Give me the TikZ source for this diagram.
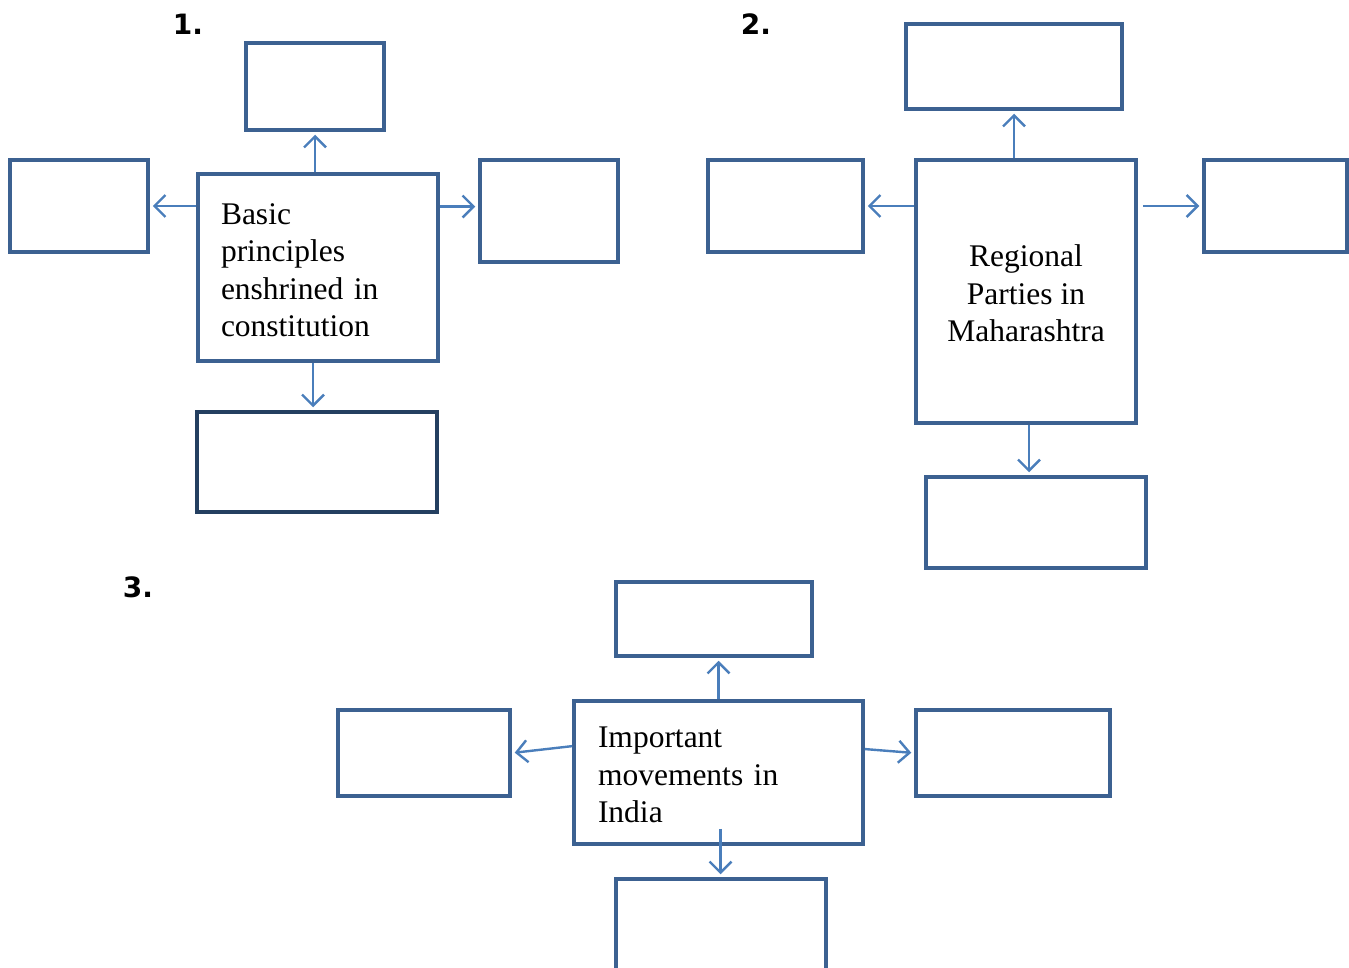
\documentclass[tikz,border=0pt]{standalone}
\usepackage{fontspec}
\setmainfont{Liberation Serif}
\newfontfamily\labfont{DejaVu Sans}
\usetikzlibrary{arrows.meta,calc}
\definecolor{boxblue}{RGB}{60,97,145}
\definecolor{boxdark}{RGB}{36,63,96}
\definecolor{arrblue}{RGB}{74,126,187}
\tikzset{
  emptybox/.style={draw=boxblue, line width=3.5pt, fill=white, inner sep=0pt},
  mainbox/.style={draw=boxblue, line width=3.5pt, fill=white, font=\fontsize{31.5}{37.5}\selectfont},
  conn/.style={draw=arrblue, line width=2.4pt, -{Straight Barb[length=11pt,width=22pt,line width=2.4pt]}, shorten >=3pt},
  numlab/.style={font=\labfont\bfseries\fontsize{28}{32}\selectfont, inner sep=0pt}
}
\begin{document}
\begin{tikzpicture}[x=1pt,y=-1pt]
\useasboundingbox (0,0) rectangle (1349,968);
\clip (0,0) rectangle (1349,968);
% labels
\node[numlab] (lab1) at (188,24) {1.};
\node[numlab] (lab2) at (756,24) {2.};
\node[numlab] (lab3) at (138,587) {3.};
% diagram 1
\node[emptybox, minimum width=138pt, minimum height=87pt] (t1) at (315,86.5) {};
\node[emptybox, minimum width=138pt, minimum height=92pt] (l1) at (79,206) {};
\node[emptybox, minimum width=138pt, minimum height=102pt] (r1) at (549,211) {};
\node[emptybox, draw=boxdark, minimum width=240pt, minimum height=100pt] (b1) at (317,462) {};
\node[mainbox, text width=194pt, inner xsep=23pt, inner ysep=0pt, minimum height=187pt, align=left] (c1) at (318,267.5) {\strut Basic\\principles\\enshrined in\\constitution};
% diagram 2
\node[emptybox, minimum width=216pt, minimum height=85pt] (t2) at (1014,66.5) {};
\node[emptybox, minimum width=155pt, minimum height=92pt] (l2) at (785.5,206) {};
\node[emptybox, minimum width=143pt, minimum height=92pt] (r2) at (1275.5,206) {};
\node[emptybox, minimum width=220pt, minimum height=91pt] (b2) at (1036,522.5) {};
\node[mainbox, minimum width=220pt, minimum height=263pt, align=center, inner sep=0pt] (c2) at (1026,291.5) {\strut Regional\\Parties in\\Maharashtra};
% diagram 3
\node[emptybox, minimum width=196pt, minimum height=74pt] (t3) at (714,619) {};
\node[emptybox, minimum width=172pt, minimum height=86pt] (l3) at (424,753) {};
\node[emptybox, minimum width=194pt, minimum height=86pt] (r3) at (1013,753) {};
\node[emptybox, minimum width=210pt, minimum height=110pt] (b3) at (721,934) {};
\node[mainbox, text width=241pt, inner xsep=24pt, inner ysep=0pt, minimum height=143pt, align=left] (c3) at (718.5,772.5) {\strut Important\\movements in\\India};
% connector start points
\coordinate (s1r) at ($(c1.north east)!0.18!(c1.south east)$);
\coordinate (s1b) at ($(c1.south)+(-5,0)$);
\coordinate (s2b) at ($(c2.south)+(3,0)$);
\coordinate (s3l) at ($(c3.north west)!0.32!(c3.south west)$);
\coordinate (s3r) at ($(c3.north east)!0.34!(c3.south east)$);
\coordinate (s3b) at ($(c3.south)+(2,-17)$);
% connectors diagram 1
\draw[conn] (c1.north -| t1.south) -- (t1.south);
\draw[conn] (c1.west |- l1.east) -- (l1.east);
\draw[conn] (s1r) -- (s1r -| r1.west);
\draw[conn] (s1b) -- (s1b |- b1.north);
% connectors diagram 2
\draw[conn] (c2.north -| t2.south) -- (t2.south);
\draw[conn] (c2.west |- l2.east) -- (l2.east);
\draw[conn, shorten <=5pt] (c2.east |- r2.west) -- (r2.west);
\draw[conn] (s2b) -- (s2b |- b2.north);
% connectors diagram 3
\draw[conn] (c3.north) -- (c3.north |- t3.south);
\draw[conn] (s3l) -- (l3.east);
\draw[conn] (s3r) -- (r3.west);
\draw[conn] (s3b) -- (s3b |- b3.north);
\end{tikzpicture}
\end{document}
